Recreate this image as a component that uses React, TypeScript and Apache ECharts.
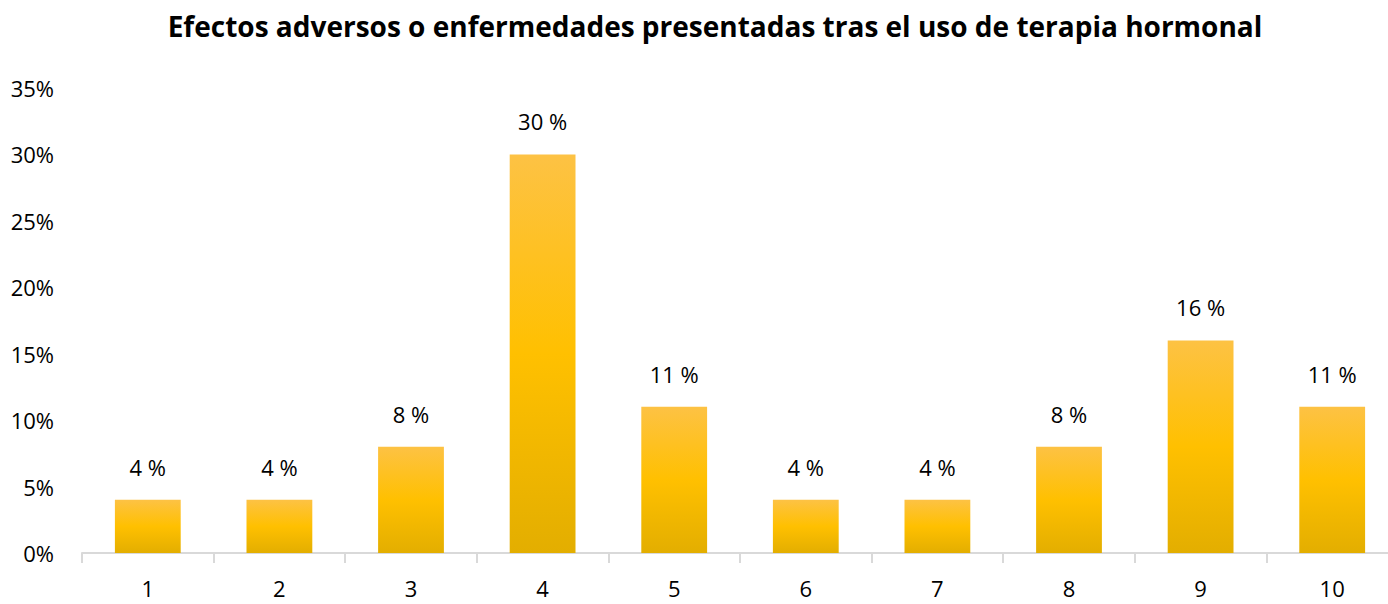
import React, { useEffect, useRef } from "react";
import * as echarts from "echarts";

const titleText = "Efectos adversos o enfermedades presentadas tras el uso de terapia hormonal";
const categories = ["1", "2", "3", "4", "5", "6", "7", "8", "9", "10"];
const values = [4, 4, 8, 30, 11, 4, 4, 8, 16, 11];
const yTicks = [0, 5, 10, 15, 20, 25, 30, 35];

const FONT = "'Open Sans', 'Noto Sans', sans-serif";

export default function App() {
  const ref = useRef<HTMLDivElement>(null);
  useEffect(() => {
    if (!ref.current) return;
    const chart = echarts.init(ref.current, null, { renderer: "svg" });
    chart.setOption({
      animation: false,
      backgroundColor: "#ffffff",
      title: {
        text: titleText,
        left: 710,
        textAlign: "center",
        top: 7,
        textStyle: { fontFamily: FONT, fontSize: 28, fontWeight: "bold", color: "#000000" },
      },
      grid: { left: 82, right: 0, top: 88, bottom: 51, containLabel: false },
      xAxis: {
        type: "category",
        data: categories,
        axisLine: { show: true, lineStyle: { color: "#d9d9d9", width: 2 } },
        axisTick: { show: true, alignWithLabel: false, length: 10, lineStyle: { color: "#d9d9d9", width: 2 } },
        axisLabel: { fontFamily: FONT, fontSize: 22, color: "#000000", margin: 24 },
      },
      yAxis: {
        type: "value",
        min: yTicks[0],
        max: yTicks[yTicks.length - 1],
        interval: 5,
        axisLine: { show: false },
        axisTick: { show: false },
        splitLine: { show: false },
        axisLabel: {
          fontFamily: FONT,
          fontSize: 22,
          color: "#000000",
          margin: 28,
          formatter: (v: number) => v + "%",
        },
      },
      series: [
        {
          type: "bar",
          data: values,
          barWidth: "50%",
          itemStyle: {
            color: new echarts.graphic.LinearGradient(0, 0, 0, 1, [
              { offset: 0, color: "#FDC244" },
              { offset: 0.5, color: "#FFC000" },
              { offset: 1, color: "#E3AE00" },
            ]),
          },
          label: {
            show: true,
            position: "top",
            distance: 22,
            fontFamily: FONT,
            fontSize: 22,
            color: "#000000",
            formatter: (p: any) => p.value + " %",
          },
        },
      ],
    });
    return () => chart.dispose();
  }, []);
  return (
    <div style={{ position: "fixed", left: 0, top: 0, width: 1388, height: 604, overflow: "hidden" }}>
      <div ref={ref} style={{ width: 1398, height: 604 }} />
    </div>
  );
}
